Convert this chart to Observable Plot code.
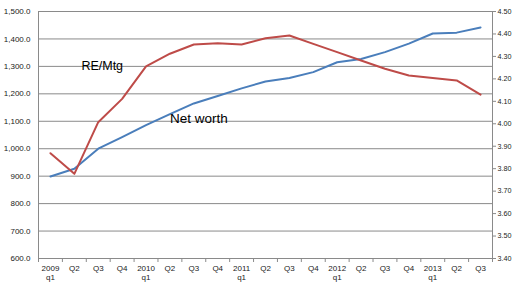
<!DOCTYPE html>
<html>
<head>
<meta charset="utf-8">
<script src="https://cdn.jsdelivr.net/npm/d3@7"></script>
<script src="https://cdn.jsdelivr.net/npm/@observablehq/plot@0.6"></script>
<style>
  html, body { margin: 0; padding: 0; background: #fff; }
  svg { display: block; }
</style>
</head>
<body>
<div id="chart"></div>
<script>
// Quarter labels (x axis)
const quarters = [
  "2009\nq1", "Q2", "Q3", "Q4",
  "2010\nq1", "Q2", "Q3", "Q4",
  "2011\nq1", "Q2", "Q3", "Q4",
  "2012\nq1", "Q2", "Q3", "Q4",
  "2013\nq1", "Q2", "Q3"
];
// Net worth (left axis)
const netWorth = [899, 927, 1000, 1042, 1086, 1126, 1165, 1192, 1220, 1245, 1258, 1279, 1315, 1327, 1352, 1383, 1420, 1423, 1442];
// RE/Mtg ratio (right axis)
const reMtg = [3.869, 3.777, 4.007, 4.111, 4.256, 4.312, 4.353, 4.359, 4.353, 4.381, 4.393, 4.356, 4.319, 4.282, 4.245, 4.215, 4.204, 4.193, 4.130];

// Axis ticks
const leftTicks = [600, 700, 800, 900, 1000, 1100, 1200, 1300, 1400, 1500];
const rightTicks = [3.4, 3.5, 3.6, 3.7, 3.8, 3.9, 4.0, 4.1, 4.2, 4.3, 4.4, 4.5];
const leftDomain = [600, 1500];
const rightDomain = [3.4, 4.5];

// Series labels (placed at a category index and a left-axis value)
const seriesLabels = [
  {text: "RE/Mtg", at: 2, value: 1300, size: 12.5, dx: 4},
  {text: "Net worth", at: 6, value: 1110, size: 13.5, dx: 5}
];

const toLeft = v => leftDomain[0] + (v - rightDomain[0]) / (rightDomain[1] - rightDomain[0]) * (leftDomain[1] - leftDomain[0]);
const fromLeft = y => rightDomain[0] + (y - leftDomain[0]) / (leftDomain[1] - leftDomain[0]) * (rightDomain[1] - rightDomain[0]);

const idx = d3.range(quarters.length);
const boundaries = d3.range(-0.5, quarters.length, 1);
const grey = "#8a8a8a";
const font = "Liberation Sans, Arial, sans-serif";

const chart = Plot.plot({
  width: 513,
  height: 282,
  marginLeft: 38,
  marginRight: 21,
  marginTop: 11,
  marginBottom: 24,
  style: {fontFamily: font, background: "#fff"},
  x: {domain: [-0.5, quarters.length - 0.5]},
  y: {domain: leftDomain},
  marks: [
    Plot.gridY(leftTicks, {stroke: grey, strokeOpacity: 1, strokeWidth: 1}),
    Plot.ruleX([-0.5, quarters.length - 0.5], {stroke: grey, strokeWidth: 1}),
    Plot.axisY(leftTicks, {
      anchor: "left", tickSize: 0, tickPadding: 8, fontSize: 8, fill: "#222",
      tickFormat: d3.format(",.1f"), label: null
    }),
    Plot.axisY(rightTicks.map(toLeft), {
      anchor: "right", tickSize: 3, tickPadding: 2, fontSize: 7.2, fill: "#222", stroke: grey,
      tickFormat: d => fromLeft(d).toFixed(2), label: null
    }),
    Plot.axisX(boundaries, {
      anchor: "bottom", tickSize: 4, stroke: grey, text: null, label: null
    }),
    Plot.axisX(idx, {
      anchor: "bottom", tickSize: 0, tickPadding: 6, fontSize: 8, fill: "#222",
      tickFormat: i => quarters[i], lineHeight: 1.15, label: null
    }),
    Plot.line(netWorth, {x: (d, i) => i, y: d => d, stroke: "#4A7EBB", strokeWidth: 2}),
    Plot.line(reMtg, {x: (d, i) => i, y: d => toLeft(d), stroke: "#BE4B48", strokeWidth: 2}),
    ...seriesLabels.map(s => Plot.text([s], {
      x: "at", y: "value", text: "text", fontSize: s.size, dx: s.dx, fill: "#000", textAnchor: "middle"
    }))
  ]
});
document.getElementById("chart").append(chart);
</script>
</body>
</html>
